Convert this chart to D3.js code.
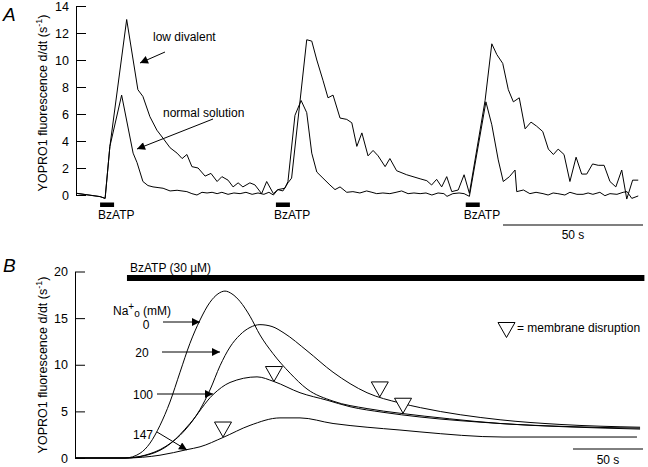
<!DOCTYPE html>
<html><head><meta charset="utf-8">
<script src="https://cdn.jsdelivr.net/npm/d3@7/dist/d3.min.js"></script>
<style>
body{margin:0;background:#fff;}
text{font-family:"Liberation Sans",Arial,Helvetica,sans-serif;fill:#000;}
</style></head>
<body><svg id="c" width="648" height="467"></svg>
<script>
// ---------- Panel A data (time in s, value in s^-1) ----------
const lowDivT = [0,8.6,10.4,12.1,18.1,22.1,23.9,26.4,28.9,31.1,33.6,36.1,37.9,39.6,41.4,43.6,46.1,48.2,50.4,52.1,54.3,56.1,57.9,59.6,62.1,63.9,66.3,68.1,70.5,72.1,73.9,75.7,77.0,82.4,84.2,86.0,88.2,90.0,91.8,94.3,96.7,98.5,100.3,102.1,104.3,106.1,107.9,110.4,112.1,114.5,118.1,122.9,125.3,127.0,128.8,130.6,132.4,134.2,136.5,138.6,140.5,146.1,148.5,150.3,152.4,154.4,156.2,158.3,160.4,162.5,164.5,166.7,168.7,170.5,172.2,174.3,176.4,178.6,180.6,182.4,184.5,186.5,188.6,190.7,192.8,194.9,196.7,198.8,200.8];
const lowDivV = [0.13,-0.12,-0.25,3.6,13.0,7.8,7.3,5.8,4.8,4.2,3.5,3.1,2.7,3.0,2.1,2.0,1.4,1.6,1.0,1.36,1.1,0.6,0.9,0.6,0.9,0.75,0.1,1.0,0.1,0.4,0.3,0.9,1.25,11.5,11.4,10.0,8.5,7.2,7.4,5.7,5.6,5.35,3.6,4.6,2.9,3.3,2.9,2.1,2.7,1.8,1.5,1.2,1.06,0.74,1.16,0.6,1.36,0.25,0.37,1.5,0.12,7.0,11.2,10.4,9.75,7.8,6.9,7.2,4.9,5.4,5.1,4.7,3.4,3.0,3.4,3.0,1.0,2.8,1.55,1.55,2.3,2.2,2.2,1.0,0.6,1.85,-0.3,1.1,1.1];
const normT = [0,8.6,10.4,12.1,16.3,20.4,21.8,23.9,25.7,27.5,29.3,31.1,33.6,36.1,39.6,41.4,43.2,45.0,46.8,48.6,50.4,52.1,54.3,56.4,58.6,60.7,62.9,65.0,67.1,68.9,70.5,72.1,74.6,75.7,78.2,80.4,82.4,84.2,86.0,88.2,90.7,92.5,94.3,96.7,98.9,101.4,103.8,105.7,107.4,109.6,112.1,114.3,116.3,118.6,120.7,122.9,125.0,127.1,129.3,131.4,132.5,134.6,136.8,138.6,140.5,146.4,148.5,150.8,152.6,154.8,156.8,157.4,159.8,162.1,164.3,166.8,168.6,170.4,172.1,174.6,176.4,178.9,181.1,182.9,184.6,187.1,188.9,190.7,193.2,195.4,196.8,198.5,200.8];
const normV = [0.13,-0.12,-0.25,3.6,7.4,3.1,2.4,1.0,0.7,0.6,0.55,0.5,0.3,0.35,0.25,0.1,0.0,0.2,0.15,0.2,0.1,0.2,0.05,0.15,0.1,0.2,0.05,0.15,0.05,0.2,0.0,0.4,0.5,1.0,5.9,7.0,6.1,3.1,1.7,1.25,0.74,0.4,0.6,0.2,0.25,0.15,0.3,0.2,0.1,0.15,0.1,0.2,0.3,0.1,0.15,0.1,0.15,0.0,0.15,0.1,-0.1,0.1,0.15,0.1,-0.1,6.9,5.2,2.6,1.0,1.36,1.85,0.25,0.37,0.1,0.2,0.1,0.0,0.15,0.1,0.0,0.2,0.05,0.05,0.15,0.05,0.2,-0.05,0.1,0.05,0.2,0.25,-0.25,-0.07];
const bzatpA = [8.6, 71.4, 139.2];           // BzATP application start (s)
const bzatpADur = 5;
const ticksA = [0,2,4,6,8,10,12,14];

// ---------- Panel B data ----------
const na0T  = [0,35,45.7,52.9,60,67.1,74.3,81.4,88.6,95.7,101.4,106.4,111.4,117.1,124.3,131.4,140.7,152.9,165,183.6,207.9,231.4,267,302.9,345.7,402.9];
const na0V  = [0,0,0.5,1.6,3.5,6.0,9.2,12.3,14.8,16.7,17.6,17.9,17.6,16.8,15.2,13.2,11.2,9.1,7.4,6.1,5.3,4.8,4.2,3.7,3.4,3.2];
const na20T = [0,35,49.3,63.6,77.9,88.6,95.7,102.9,110,117.1,124.3,131.4,140,148.6,165,183.6,207.9,231.4,246,302.9,345.7,402.9];
const na20V = [0,0,0.3,1.2,3.0,5.2,7.3,9.9,11.9,13.2,14.0,14.3,14.1,13.4,11.5,9.2,7.0,5.9,5.4,4.1,3.6,3.3];
const na100T = [0,35,52.9,67.1,81.4,97.9,110,129.3,141.4,160,179.3,195.7,219.3,245.7,302.9,402.9];
const na100V = [0,0,0.4,1.5,3.7,6.8,8.1,8.7,8.2,7.0,6.2,5.5,4.9,4.4,3.7,3.1];
const na147T = [0,35,60,79.3,88.6,105,124.3,145.7,160,183.6,207.9,231.4,245.7,305,400.7];
const na147V = [0,0,0.3,0.9,1.2,2.2,3.5,4.3,4.3,3.7,3.3,3.0,2.8,2.25,2.25];
const naLabels = ["0","20","100","147"];
const disruptT = [105, 141.4, 217, 233.6];
const disruptV = [2.25, 8.2, 6.55, 4.8];
const bzatpB = [36.4, 406];
const ticksB = [0,5,10,15,20];

const svg = d3.select("#c");
const font = "12px";

// ---------- defs: arrowheads ----------
const defs = svg.append("defs");
defs.append("marker").attr("id","ah").attr("viewBox","0 0 10 10").attr("refX",10).attr("refY",5)
  .attr("markerWidth",11).attr("markerHeight",8).attr("markerUnits","userSpaceOnUse").attr("orient","auto")
  .append("path").attr("d","M0,0 L10,5 L0,10 Z").attr("fill","#000");

function yLabel(g, cx, cy){
  const t = g.append("text").attr("transform",`translate(${cx},${cy}) rotate(-90)`)
    .attr("text-anchor","middle").style("font-size","12.5px");
  t.append("tspan").text("YOPRO1 fluorescence d/dt (s");
  t.append("tspan").attr("dy",-5).style("font-size","9px").text("-1");
  t.append("tspan").attr("dy",5).text(")");
}

// ================= Panel A =================
const xA = d3.scaleLinear().domain([0,200]).range([76,636]);
const yA = d3.scaleLinear().domain([0,14]).range([195,6]);
const gA = svg.append("g");
const axA = gA.append("g").attr("transform","translate(76,0)")
  .call(d3.axisLeft(yA).tickValues(ticksA).tickSizeInner(-10).tickSizeOuter(0).tickPadding(7));
axA.selectAll("text").style("font-size","12.5px").attr("fill","#000").style("font-family","Liberation Sans, Arial");
axA.selectAll("line,path").attr("stroke","#000");

const lineA = d3.line().x(d=>xA(d[0])).y(d=>yA(d[1]));
gA.append("path").attr("d",lineA(d3.zip(lowDivT,lowDivV))).attr("fill","none").attr("stroke","#000").attr("stroke-width",1);
gA.append("path").attr("d",lineA(d3.zip(normT,normV))).attr("fill","none").attr("stroke","#000").attr("stroke-width",1);

bzatpA.forEach(t=>{
  gA.append("rect").attr("x",xA(t)).attr("y",202.5).attr("width",xA(t+bzatpADur)-xA(t)).attr("height",4.5).attr("fill","#000");
  gA.append("text").attr("x",xA(t)-2).attr("y",219).style("font-size",font).text("BzATP");
});
gA.append("line").attr("x1",xA(152.5)).attr("x2",xA(202.5)).attr("y1",225).attr("y2",225).attr("stroke","#555").attr("stroke-width",1.5);
gA.append("text").attr("x",xA(177.5)).attr("y",239).attr("text-anchor","middle").style("font-size",font).text("50 s");

gA.append("text").attr("x",153).attr("y",41).style("font-size",font).text("low divalent");
gA.append("line").attr("x1",165).attr("y1",52).attr("x2",140).attr("y2",63).attr("stroke","#000").attr("marker-end","url(#ah)");
gA.append("text").attr("x",163).attr("y",117).style("font-size",font).text("normal solution");
gA.append("line").attr("x1",213).attr("y1",119).attr("x2",137).attr("y2",149).attr("stroke","#000").attr("marker-end","url(#ah)");

svg.append("text").attr("x",3).attr("y",21).style("font-size","19px").style("font-style","italic").text("A");
yLabel(svg, 47, 103);

// ================= Panel B =================
const xB = d3.scaleLinear().domain([0,405]).range([76,643]);
const yB = d3.scaleLinear().domain([0,20]).range([458,271.5]);
const gB = svg.append("g");
const axB = gB.append("g").attr("transform","translate(75,0)")
  .call(d3.axisLeft(yB).tickValues(ticksB).tickSizeInner(-10).tickSizeOuter(0).tickPadding(7));
axB.selectAll("text").style("font-size","12.5px").attr("fill","#000").style("font-family","Liberation Sans, Arial");
axB.selectAll("line,path").attr("stroke","#000");

gB.append("rect").attr("x",xB(bzatpB[0])).attr("y",275).attr("width",xB(bzatpB[1])-xB(bzatpB[0])).attr("height",6).attr("fill","#000");
gB.append("text").attr("x",xB(bzatpB[0])+3).attr("y",272).style("font-size",font).text("BzATP (30 µM)");

const lineB = d3.line().x(d=>xB(d[0])).y(d=>yB(d[1])).curve(d3.curveMonotoneX);
[[na0T,na0V],[na20T,na20V],[na100T,na100V],[na147T,na147V]].forEach(([T,V])=>{
  gB.append("path").attr("d",lineB(d3.zip(T,V))).attr("fill","none").attr("stroke","#000").attr("stroke-width",1);
});

// triangles (membrane disruption)
function tri(x,y){ return `M${x},${y} L${x-8.5},${y-15} L${x+8.5},${y-15} Z`; }
disruptT.forEach((t,i)=>{
  gB.append("path").attr("d",tri(xB(t),yB(disruptV[i]))).attr("fill","#fff").attr("stroke","#000").attr("stroke-width",1);
});
gB.append("path").attr("d",tri(506.5,337.5)).attr("fill","#fff").attr("stroke","#000").attr("stroke-width",1);
gB.append("text").attr("x",517).attr("y",332).style("font-size",font).text("= membrane disruption");

// Na labels
const na = gB.append("text").attr("x",113).attr("y",315).style("font-size",font);
na.append("tspan").text("Na");
na.append("tspan").attr("dy",-5).style("font-size","10px").text("+");
na.append("tspan").attr("dy",7).style("font-size","10px").text("o");
na.append("tspan").attr("dy",-2).text(" (mM)");

const labPos = [[146,329],[142,357],[143,399],[143,439]];
naLabels.forEach((s,i)=>{
  gB.append("text").attr("x",labPos[i][0]).attr("y",labPos[i][1]).attr("text-anchor","middle").style("font-size",font).text(s);
});
const arrows = [[163,322,200,322],[162,352,220,352],[157,394,213,394],[157,432,187,450]];
arrows.forEach(a=>{
  gB.append("line").attr("x1",a[0]).attr("y1",a[1]).attr("x2",a[2]).attr("y2",a[3]).attr("stroke","#000").attr("marker-end","url(#ah)");
});

gB.append("line").attr("x1",xB(355)).attr("x2",xB(405)).attr("y1",449).attr("y2",449).attr("stroke","#000").attr("stroke-width",1);
gB.append("text").attr("x",xB(380)).attr("y",464).attr("text-anchor","middle").style("font-size",font).text("50 s");

svg.append("text").attr("x",3).attr("y",272).style("font-size","19px").style("font-style","italic").text("B");
yLabel(svg, 47, 365);
</script></body></html>
